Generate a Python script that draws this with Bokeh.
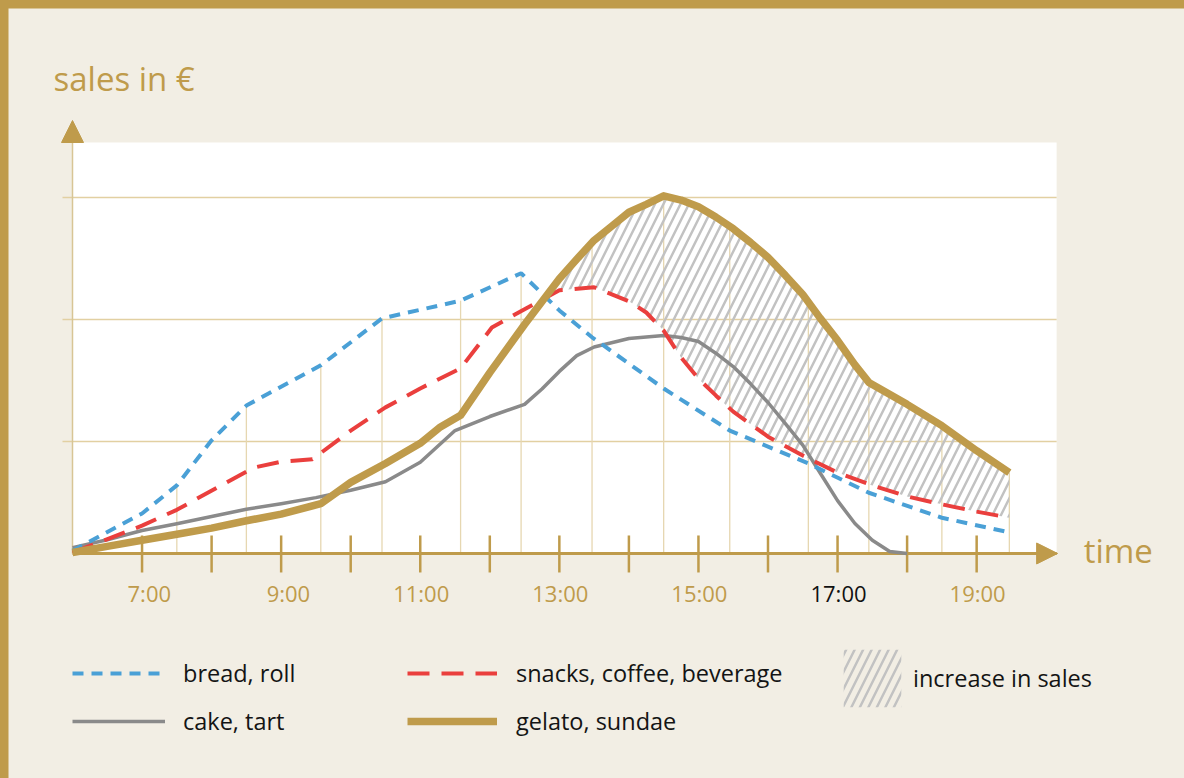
import numpy as np
from bokeh.plotting import figure
from bokeh.models import (Range1d, Arrow, NormalHead, Label, LabelSet, BoxAnnotation,
                          ColumnDataSource, Legend, LegendItem)
from bokeh.embed import file_html
from bokeh.resources import INLINE
from bokeh.core.properties import value

# ---------------- data (time in hours, sales in EUR) ----------------
bread_t = [6.0, 7.0, 7.5, 8.0, 8.5, 9.57, 10.45, 11.58, 12.45, 13.0, 13.47, 14.5, 15.45, 16.58, 17.45, 18.5, 19.47]
bread_v = [105, 410, 640, 1010, 1295, 1625, 2010, 2155, 2380, 2075, 1855, 1435, 1090, 820, 580, 375, 255]

snack_t = [6.0, 7.0, 7.5, 8.6, 9.0, 9.45, 10.0, 10.5, 11.0, 11.58, 12.03, 12.5, 13.0, 13.5, 14.0, 14.25,
           14.5, 14.75, 15.0, 15.25, 15.5, 16.0, 16.5, 17.0, 17.5, 18.0, 18.5, 19.0, 19.47]
snack_v = [90, 310, 440, 785, 835, 855, 1090, 1280, 1435, 1600, 1935, 2085, 2240, 2265, 2150, 2058,
           1910, 1689, 1515, 1378, 1245, 1040, 885, 745, 640, 550, 485, 425, 375]

cake_t = [6.0, 6.5, 7.0, 7.5, 8.0, 8.5, 9.0, 9.5, 10.0, 10.5, 11.0, 11.5, 12.0, 12.5, 12.75, 13.0, 13.25,
          13.5, 14.0, 14.5, 14.75, 15.0, 15.25, 15.5, 15.75, 16.0, 16.25, 16.5, 16.75, 17.0, 17.25, 17.5,
          17.75, 18.0]
cake_v = [130, 195, 270, 325, 385, 445, 490, 540, 600, 670, 830, 1090, 1205, 1305, 1431, 1575, 1704,
          1775, 1845, 1870, 1853, 1820, 1724, 1615, 1473, 1320, 1146, 970, 742, 515, 328, 190,
          98, 82]

gelato_t = [6.0, 6.5, 7.0, 7.5, 8.0, 8.5, 9.0, 9.57, 10.0, 10.5, 11.0, 11.29, 11.58, 12.0, 12.5, 13.0,
            13.25, 13.5, 13.75, 14.0, 14.25, 14.5, 14.75, 15.0, 15.25, 15.5, 15.75, 16.0, 16.25, 16.5,
            16.75, 17.0, 17.25, 17.45, 18.0, 18.5, 19.0, 19.47]
gelato_v = [90, 140, 190, 240, 290, 350, 405, 490, 665, 820, 985, 1120, 1215, 1565, 1960, 2335,
            2495, 2650, 2764, 2880, 2945, 3015, 2980, 2925, 2841, 2745, 2632, 2510, 2362, 2205,
            2012, 1830, 1628, 1485, 1305, 1130, 925, 745]

# sample times marked by thin vertical lines
mark_t = [7.5, 8.5, 9.57, 10.45, 11.58, 12.45, 13.47, 14.5, 15.45, 16.58, 17.45, 18.5, 19.47]

hour_ticks = [7, 8, 9, 10, 11, 12, 13, 14, 15, 16, 17, 18, 19]
label_hours = [7, 9, 11, 13, 15, 17, 19]
label_texts = ["7:00", "9:00", "11:00", "13:00", "15:00", "17:00", "19:00"]
grid_values = [1000, 2000, 3000]

series_names = ["bread, roll", "snacks, coffee, beverage", "cake, tart", "gelato, sundae", "increase in sales"]

# ---------------- styles / geometry ----------------
GOLD = "#BF9B4B"
CREAM = "#F2EEE4"
GRID = "#E2D0A2"
DROP = "#E6D7B1"
AXIS_TAN = "#D8C595"
BLUE = "#4AA0D6"
RED = "#EA3F3D"
GREY = "#8A8A8A"
HATCH = "#C2C2C2"
FONT = "Open Sans"

W, H = 1176, 770
PX_X = 69.55          # pixels per hour
K = 8.2               # sales units per pixel
X0, X1 = 6.0, 20.15   # extent of the white plotting area
Y0, Y1 = 82, 3452
LEFT, TOP = 64, 134   # position of the white area inside the canvas

xr = Range1d(X0 - LEFT / PX_X, X0 + (W - LEFT) / PX_X)
yr = Range1d(Y1 - (H - TOP) * K, Y1 + TOP * K)

p = figure(width=W, height=H, x_range=xr, y_range=yr, output_backend="svg", toolbar_location=None,
           x_axis_location=None, y_axis_location=None, min_border=0,
           background_fill_color=CREAM, border_fill_color=CREAM, outline_line_color=None)
p.grid.visible = False

# white plotting area
p.add_layout(BoxAnnotation(left=X0, right=X1, bottom=Y0, top=Y1, fill_color="white", fill_alpha=1,
                           line_color=None, level="underlay"))

# horizontal grid lines (extend a little left of the y axis)
gl = len(grid_values)
p.segment(x0=[X0 - 10 / PX_X] * gl, x1=[X1] * gl, y0=grid_values, y1=grid_values,
          line_color=GRID, line_width=1.5)

# y axis line
p.segment(x0=[X0], y0=[Y0], x1=[X0], y1=[Y1], line_color=AXIS_TAN, line_width=1.5)

# vertical marker lines up to the highest series
def top_at(t):
    return max(np.interp(t, bread_t, bread_v), np.interp(t, snack_t, snack_v),
               np.interp(t, cake_t, cake_v), np.interp(t, gelato_t, gelato_v))

mark_top = [top_at(t) for t in mark_t]
p.segment(x0=mark_t, y0=[Y0] * len(mark_t), x1=mark_t, y1=mark_top, line_color=DROP, line_width=1.3)

# hatched "increase" area between snacks line and gelato line
grid = np.union1d(snack_t, gelato_t)
grid = grid[grid <= min(snack_t[-1], gelato_t[-1])]
r = np.interp(grid, snack_t, snack_v)
g = np.interp(grid, gelato_t, gelato_v)
d = g - r
ax, alo, ahi = [], [], []
for i in range(len(grid)):
    if i > 0 and (d[i - 1] > 0) != (d[i] > 0) and d[i - 1] != d[i]:
        f = d[i - 1] / (d[i - 1] - d[i])
        xc = grid[i - 1] + f * (grid[i] - grid[i - 1])
        yc = r[i - 1] + f * (r[i] - r[i - 1])
        ax.append(xc); alo.append(yc); ahi.append(yc)
    ax.append(grid[i]); alo.append(r[i]); ahi.append(max(g[i], r[i]))

r_area = p.varea(x=ax, y1=alo, y2=ahi, fill_alpha=0, hatch_pattern="/", hatch_color=HATCH,
                 hatch_weight=2.5, hatch_scale=17)

# x axis: gold line with crossing hour ticks
p.segment(x0=[X0], y0=[Y0], x1=[X1], y1=[Y0], line_color=GOLD, line_width=3)
nt = len(hour_ticks)
p.segment(x0=hour_ticks, x1=hour_ticks, y0=[Y0 - 19 * K] * nt, y1=[Y0 + 18 * K] * nt,
          line_color=GOLD, line_width=2.5)

# series
r_cake = p.line(cake_t, cake_v, line_color=GREY, line_width=3.5, line_join="round")
r_bread = p.line(bread_t, bread_v, line_color=BLUE, line_width=4, line_dash="11 8")
r_snack = p.line(snack_t, snack_v, line_color=RED, line_width=4, line_dash="22 12")
r_gelato = p.line(gelato_t, gelato_v, line_color=GOLD, line_width=7.5, line_join="round")

# axis arrow heads
p.add_layout(Arrow(end=NormalHead(size=21, fill_color=GOLD, line_color=GOLD, line_width=1),
                   x_start=X1 - 0.3, y_start=Y0, x_end=X1 + 1 / PX_X, y_end=Y0, line_alpha=0))
p.add_layout(Arrow(end=NormalHead(size=22, fill_color=GOLD, line_color=GOLD, line_width=1),
                   x_start=X0, y_start=Y1 - 100, x_end=X0, y_end=Y1 + 22 * K, line_alpha=0))

# axis titles
p.add_layout(Label(x=X0, y=Y1, x_offset=-19, y_offset=64, text="sales in €", text_font=FONT,
                   text_font_size="33px", text_color=GOLD, text_baseline="alphabetic", text_align="left"))
p.add_layout(Label(x=X1, y=Y0, x_offset=27, y_offset=3, text="time", text_font=FONT,
                   text_font_size="33px", text_color=GOLD, text_baseline="alphabetic", text_align="left"))

# hour labels
lab_colors = [("#111111" if h == 17 else GOLD) for h in label_hours]
lab_src = ColumnDataSource(dict(x=label_hours, y=[Y0] * len(label_hours), text=label_texts, color=lab_colors))
p.add_layout(LabelSet(x="x", y="y", text="text", source=lab_src, x_offset=29, y_offset=-49,
                      text_align="right", text_baseline="alphabetic", text_color="color",
                      text_font=value(FONT), text_font_size="22px"))

# legends
def make_legend(items, loc, gw, gh, standoff, spacing):
    lg = Legend(items=items, location=loc, orientation="vertical", glyph_width=gw, glyph_height=gh,
                label_standoff=standoff, spacing=spacing, padding=0, margin=0,
                border_line_color=None, background_fill_alpha=0,
                label_text_font=FONT, label_text_font_size="23.5px", label_text_color="#141414",
                label_height=gh)
    p.add_layout(lg)

make_legend([LegendItem(label=series_names[0], renderers=[r_bread]),
             LegendItem(label=series_names[2], renderers=[r_cake])], (64, 40), 93, 34, 18, 14)
make_legend([LegendItem(label=series_names[1], renderers=[r_snack]),
             LegendItem(label=series_names[3], renderers=[r_gelato])], (399, 40), 90, 34, 19, 14)
make_legend([LegendItem(label=series_names[4], renderers=[r_area])], (828, 64), 72, 72, 5, 0)

html = file_html(p, INLINE, title="sales")
css = ("<style>html,body{margin:0 !important;padding:0 !important;overflow:hidden;background:#BF9B4B;}"
       "body{padding:8px 0 0 8px !important;box-sizing:border-box;}</style>")
html = html.replace("</head>", css + "</head>", 1)
open("out.html", "w").write(html)
